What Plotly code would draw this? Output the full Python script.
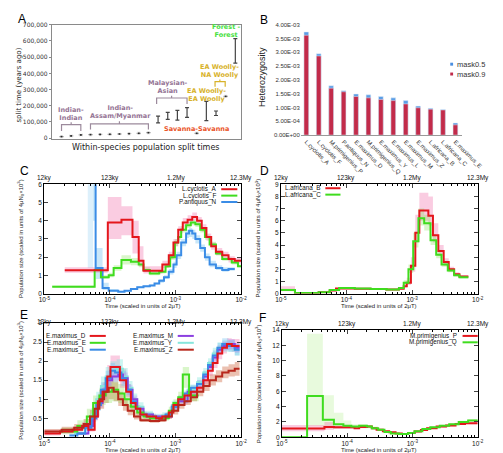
import plotly.graph_objects as go

W, H = 503, 453

def X(p):
    return p / W

def Y(p):
    return 1 - p / H

# ---------------- Panel A data ----------------
split_pos = list(range(1, 20))
split_low = [10000, 14000, 20000, 22000, 23000, 24000, 26000, 28000, 30000, 34000,
             95000, 116000, 112000, 128000, 30000, 108000, 140000, 258000, 463000]
split_high = [10000, 14000, 20000, 22000, 23000, 24000, 26000, 28000, 30000, 34000,
              136000, 160000, 172000, 189000, 30000, 227000, 168000, 258000, 615000]

# ---------------- Panel B data ----------------
samples = ["L.cyclotis_A", "L.cyclotis_F", "M.primigenius_P", "P.antiquus_N", "E.maximus_D",
           "M.primigenius_Q", "E.maximus_Y", "E.maximus_L", "E.maximus_M", "E.maximus_Z",
           "L.africana_B", "L.africana_C", "E.maximus_E"]
het_mask05 = [3.74e-3, 2.95e-3, 1.79e-3, 1.61e-3, 1.49e-3, 1.46e-3, 1.40e-3, 1.35e-3,
              1.25e-3, 1.05e-3, 0.97e-3, 0.93e-3, 0.44e-3]
het_mask09 = [3.62e-3, 2.87e-3, 1.70e-3, 1.57e-3, 1.40e-3, 1.35e-3, 1.29e-3, 1.25e-3,
              1.13e-3, 0.99e-3, 0.94e-3, 0.91e-3, 0.37e-3]
het_tickvals = [0, 0.0005, 0.001, 0.0015, 0.002, 0.0025, 0.003, 0.0035, 0.004]
het_ticktext = ["0.00E+00", "5.00E-04", "1.00E-03", "1.50E-03", "2.00E-03",
                "2.50E-03", "3.00E-03", "3.50E-03", "4.00E-03"]

# ---------------- PSMC tick labels ----------------
time_ticks = [1e-5, 1e-4, 1e-3, 1e-2]
time_ticktext = ["10<sup>-5</sup>", "10<sup>-4</sup>", "10<sup>-3</sup>", "10<sup>-2</sup>"]
years_text = ["12ky", "123ky", "1.2My", "12.3My"]

# ---------------- Panel C data ----------------
c_A_t = [2.05e-5, 9.3e-5, 1.50e-4, 2.21e-4, 2.75e-4, 3.25e-4, 6.3e-4, 7.9e-4, 9.3e-4, 1.10e-3, 1.29e-3,
         1.53e-3, 1.80e-3, 2.13e-3, 2.51e-3, 2.96e-3, 3.50e-3, 4.13e-3, 5.15e-3, 6.43e-3, 8.0e-3, 1.0e-2]
c_A_y = [1.28, 3.9, 4.05, 3.1, 1.8, 1.25, 1.6, 2.1, 2.8, 3.5, 3.9, 4.05, 4.2, 4.0, 3.6, 3.1, 2.6, 2.3,
         2.1, 1.9, 1.8, 1.8]
c_A_lo = [1.15, 3.0, 3.2, 2.2, 1.5, 1.1, 1.4, 1.9, 2.6, 3.3, 3.7, 3.85, 4.0, 3.8, 3.4, 2.9, 2.4, 2.1,
          1.9, 1.7, 1.65, 1.65]
c_A_hi = [1.45, 5.3, 4.8, 4.0, 2.6, 1.5, 1.8, 2.3, 3.0, 3.7, 4.15, 4.3, 4.45, 4.2, 3.8, 3.3, 2.8, 2.5,
          2.3, 2.05, 1.95, 1.95]

c_F_t = [1.32e-5, 5.86e-5, 7.3e-5, 9.6e-5, 1.14e-4, 1.50e-4, 2.09e-4, 2.75e-4, 3.25e-4, 4.06e-4, 5.65e-4,
         7.05e-4, 8.3e-4, 9.8e-4, 1.10e-3, 1.22e-3, 1.45e-3, 1.71e-3, 2.01e-3, 2.38e-3, 2.81e-3, 3.31e-3,
         4.13e-3, 5.15e-3, 7.2e-3, 8.95e-3, 1.0e-2]
c_F_y = [0.38, 1.3, 0.9, 1.0, 1.4, 1.85, 1.75, 1.6, 1.3, 1.1, 1.2, 1.5, 2.0, 2.8, 3.1, 3.5, 3.75, 3.9,
         3.8, 3.5, 3.1, 2.7, 2.2, 1.9, 1.7, 1.5, 1.5]
c_F_lo = [0.33, 1.2, 0.8, 0.9, 1.25, 1.6, 1.55, 1.45, 1.2, 1.0, 1.1, 1.4, 1.85, 2.6, 2.95, 3.35, 3.6,
          3.75, 3.65, 3.35, 2.95, 2.55, 2.1, 1.8, 1.6, 1.45, 1.45]
c_F_hi = [0.45, 1.4, 1.0, 1.15, 1.55, 2.1, 1.95, 1.75, 1.45, 1.2, 1.3, 1.65, 2.15, 3.0, 3.3, 3.7, 3.9,
          4.05, 3.95, 3.65, 3.25, 2.85, 2.35, 2.0, 1.8, 1.6, 1.6]

c_N_t = [5.55e-5, 6.06e-5, 7.73e-5, 9.6e-5, 1.34e-4, 1.67e-4, 2.09e-4, 2.61e-4, 3.25e-4, 4.06e-4,
         4.79e-4, 5.65e-4, 6.67e-4, 7.9e-4, 9.3e-4, 1.04e-3, 1.22e-3, 1.45e-3, 1.61e-3, 1.80e-3,
         2.01e-3, 2.38e-3, 2.81e-3, 3.31e-3, 4.13e-3, 5.15e-3, 6.43e-3, 8.0e-3]
c_N_y = [9.0, 1.4, 0.3, 0.15, 0.1, 0.15, 0.25, 0.35, 0.4, 0.45, 0.55, 0.7, 0.9, 1.2, 1.6, 2.1, 2.8,
         3.3, 3.45, 3.3, 3.0, 2.5, 2.0, 1.6, 1.4, 1.3, 1.35, 1.35]
c_N_lo = [4.0, 0.8, 0.2, 0.1, 0.07, 0.1, 0.2, 0.3, 0.35, 0.4, 0.5, 0.6, 0.8, 1.05, 1.4, 1.9, 2.6,
          3.05, 3.1, 3.0, 2.75, 2.3, 1.8, 1.45, 1.3, 1.2, 1.25, 1.25]
c_N_hi = [9.0, 2.5, 0.6, 0.25, 0.15, 0.2, 0.3, 0.4, 0.45, 0.5, 0.6, 0.8, 1.0, 1.35, 1.75, 2.3, 3.0,
          3.5, 3.6, 3.5, 3.2, 2.7, 2.2, 1.8, 1.55, 1.45, 1.45, 1.45]
c_N_pre_t = [4.6e-5, 5.55e-5]
c_N_pre_lo = [1.4, 1.4]
c_N_pre_hi = [6.5, 6.5]

# ---------------- Panel D data ----------------
d_B_t = [1.0e-5, 1.64e-5, 3.77e-5, 5.55e-5, 6.92e-5, 1.34e-4, 2.33e-4, 4.06e-4, 6.3e-4, 7.45e-4, 8.3e-4,
         9.6e-4, 1.12e-3, 1.29e-3, 1.77e-3, 2.08e-3, 2.51e-3, 3.03e-3, 3.62e-3, 4.37e-3, 5.27e-3, 7.2e-3]
d_B_y = [0.3, 0.05, 0.1, 0.25, 0.42, 0.4, 0.37, 0.33, 0.4, 0.6, 0.9, 2.3, 5.0, 6.85, 6.4, 4.8, 3.5,
         2.6, 2.0, 1.6, 1.4, 1.4]
d_B_lo = [0.2, 0.03, 0.07, 0.2, 0.35, 0.35, 0.32, 0.28, 0.33, 0.5, 0.7, 1.8, 4.2, 6.0, 5.6, 4.2, 3.1,
          2.3, 1.8, 1.45, 1.3, 1.3]
d_B_hi = [0.6, 0.1, 0.15, 0.35, 0.5, 0.47, 0.42, 0.38, 0.5, 0.8, 1.3, 3.0, 6.5, 8.3, 8.0, 5.8, 4.0,
          2.9, 2.2, 1.75, 1.5, 1.5]

d_C_t = [1.0e-5, 1.64e-5, 3.77e-5, 5.55e-5, 7.73e-5, 1.34e-4, 2.33e-4, 4.06e-4, 6.3e-4, 7.45e-4, 8.8e-4,
         1.04e-3, 1.25e-3, 1.53e-3, 1.91e-3, 2.33e-3, 2.81e-3, 3.50e-3, 4.37e-3, 5.27e-3, 7.2e-3]
d_C_y = [0.3, 0.05, 0.1, 0.3, 0.45, 0.42, 0.38, 0.33, 0.45, 0.9, 2.0, 4.3, 6.2, 5.8, 4.4, 3.2, 2.4,
         1.9, 1.5, 1.35, 1.35]
d_C_lo = [0.22, 0.03, 0.07, 0.25, 0.4, 0.38, 0.34, 0.29, 0.38, 0.75, 1.7, 3.8, 5.6, 5.2, 4.0, 2.9, 2.2,
          1.75, 1.4, 1.25, 1.25]
d_C_hi = [0.4, 0.1, 0.14, 0.35, 0.5, 0.46, 0.42, 0.38, 0.55, 1.1, 2.4, 5.0, 7.0, 6.5, 4.9, 3.6, 2.7,
          2.1, 1.65, 1.45, 1.45]

# ---------------- Panel E data ----------------
e_D_t = [1.0e-5, 1.74e-5, 2.70e-5, 3.77e-5, 4.70e-5, 5.86e-5, 6.55e-5, 7.73e-5, 9.12e-5, 1.02e-4,
         1.42e-4, 1.77e-4, 2.09e-4, 2.47e-4, 2.91e-4, 3.63e-4, 5.06e-4, 6.3e-4, 7.9e-4, 9.3e-4, 1.10e-3,
         1.37e-3, 1.71e-3, 2.13e-3, 2.65e-3, 3.13e-3, 3.70e-3, 4.37e-3, 5.15e-3, 6.08e-3, 7.2e-3, 9.46e-3]
e_D_y = [0.1, 0.15, 0.2, 0.3, 0.2, 0.55, 0.95, 1.2, 1.6, 1.85, 1.5, 1.2, 0.9, 0.75, 0.6, 0.55, 0.5,
         0.55, 0.65, 0.85, 1.0, 1.1, 1.2, 1.3, 1.5, 1.75, 1.95, 2.2, 2.35, 2.45, 2.4, 2.4]
e_D_lo = [0.05, 0.1, 0.15, 0.22, 0.15, 0.45, 0.8, 1.0, 1.35, 1.6, 1.3, 1.05, 0.8, 0.68, 0.55, 0.5,
          0.46, 0.5, 0.6, 0.78, 0.92, 1.02, 1.12, 1.22, 1.4, 1.62, 1.82, 2.05, 2.2, 2.3, 2.25, 2.25]
e_D_hi = [0.2, 0.22, 0.28, 0.4, 0.3, 0.7, 1.15, 1.45, 1.9, 2.15, 1.8, 1.4, 1.05, 0.85, 0.68, 0.62,
          0.56, 0.62, 0.72, 0.95, 1.1, 1.2, 1.3, 1.4, 1.6, 1.9, 2.1, 2.35, 2.5, 2.6, 2.58, 2.58]

e_E_t = [1.84e-5, 3.19e-5, 4.45e-5, 5.55e-5, 6.92e-5, 8.63e-5, 1.08e-4, 1.34e-4, 1.67e-4, 2.09e-4,
         2.61e-4, 3.25e-4, 4.06e-4, 5.65e-4, 7.9e-4, 9.3e-4, 1.10e-3, 1.29e-3, 1.61e-3, 2.25e-3]
e_E_y = [0.15, 0.3, 0.55, 0.9, 1.1, 1.2, 1.25, 1.15, 1.0, 0.8, 0.65, 0.55, 0.5, 0.5, 0.7, 0.9, 1.05,
         1.65, 1.1, 1.1]
e_E_lo = [0.08, 0.2, 0.4, 0.7, 0.85, 0.9, 0.95, 0.9, 0.8, 0.65, 0.55, 0.48, 0.44, 0.44, 0.62, 0.8,
          0.95, 1.3, 0.95, 0.95]
e_E_hi = [0.25, 0.45, 0.75, 1.1, 1.3, 1.45, 1.5, 1.4, 1.2, 0.95, 0.78, 0.65, 0.57, 0.57, 0.8, 1.0,
          1.2, 1.85, 1.3, 1.3]

e_L_t = [2.42e-5, 3.19e-5, 4.21e-5, 5.25e-5, 6.19e-5, 7.3e-5, 8.63e-5, 1.02e-4, 1.20e-4, 1.50e-4,
         1.77e-4, 2.09e-4, 2.47e-4, 2.91e-4, 3.63e-4, 5.06e-4, 7.05e-4, 8.8e-4, 1.10e-3, 1.37e-3,
         1.71e-3, 2.13e-3, 2.65e-3, 3.13e-3, 3.70e-3, 4.37e-3, 5.15e-3, 6.43e-3, 8.0e-3, 9.46e-3]
e_L_y = [0.05, 0.1, 0.25, 0.5, 0.85, 1.25, 1.55, 1.75, 1.7, 1.55, 1.25, 0.95, 0.75, 0.6, 0.55, 0.5,
         0.6, 0.8, 1.0, 1.15, 1.3, 1.4, 1.65, 1.9, 2.15, 2.35, 2.45, 2.4, 2.3, 2.3]
e_L_lo = [0.03, 0.07, 0.18, 0.4, 0.7, 1.05, 1.35, 1.5, 1.5, 1.35, 1.1, 0.85, 0.68, 0.55, 0.5, 0.46,
          0.55, 0.72, 0.92, 1.07, 1.22, 1.32, 1.55, 1.78, 2.02, 2.2, 2.3, 2.25, 2.15, 2.15]
e_L_hi = [0.08, 0.14, 0.32, 0.62, 1.0, 1.45, 1.75, 1.95, 1.9, 1.75, 1.4, 1.05, 0.83, 0.66, 0.6, 0.55,
          0.66, 0.88, 1.08, 1.23, 1.38, 1.5, 1.75, 2.0, 2.28, 2.48, 2.6, 2.55, 2.45, 2.45]

e_M_t = [3.19e-5, 4.70e-5, 5.55e-5, 6.55e-5, 7.73e-5, 9.12e-5, 1.08e-4, 1.34e-4, 1.58e-4, 1.87e-4,
         2.21e-4, 2.61e-4, 3.25e-4, 4.53e-4, 6.3e-4, 8.8e-4, 1.10e-3, 1.53e-3, 2.13e-3, 2.65e-3,
         3.13e-3, 3.70e-3, 4.37e-3, 5.15e-3, 6.43e-3, 8.0e-3, 9.46e-3]
e_M_y = [0.1, 0.3, 0.55, 0.9, 1.25, 1.5, 1.6, 1.65, 1.55, 1.25, 1.0, 0.75, 0.6, 0.55, 0.55, 0.8, 0.95,
         1.2, 1.4, 1.6, 1.85, 2.1, 2.3, 2.4, 2.45, 2.35, 2.35]
e_M_lo = [0.06, 0.22, 0.45, 0.78, 1.1, 1.35, 1.45, 1.5, 1.4, 1.12, 0.9, 0.68, 0.55, 0.5, 0.5, 0.72,
          0.87, 1.1, 1.3, 1.5, 1.75, 1.98, 2.18, 2.28, 2.32, 2.22, 2.22]
e_M_hi = [0.14, 0.38, 0.65, 1.02, 1.4, 1.65, 1.75, 1.8, 1.7, 1.38, 1.1, 0.82, 0.66, 0.6, 0.6, 0.88,
          1.03, 1.3, 1.5, 1.7, 1.95, 2.22, 2.42, 2.52, 2.58, 2.48, 2.48]

e_Y_t = [2.86e-5, 4.21e-5, 5.25e-5, 6.19e-5, 7.3e-5, 8.63e-5, 1.02e-4, 1.27e-4, 1.58e-4, 1.87e-4,
         2.21e-4, 2.61e-4, 3.25e-4, 4.53e-4, 6.3e-4, 8.8e-4, 1.10e-3, 1.53e-3, 2.13e-3, 2.65e-3,
         3.13e-3, 3.70e-3, 4.37e-3, 5.15e-3, 6.43e-3, 8.0e-3, 9.46e-3]
e_Y_y = [0.1, 0.3, 0.6, 1.0, 1.35, 1.6, 1.75, 1.8, 1.6, 1.3, 1.0, 0.8, 0.62, 0.55, 0.58, 0.85, 1.0,
         1.25, 1.45, 1.7, 1.95, 2.2, 2.35, 2.4, 2.4, 2.3, 2.3]
e_Y_lo = [0.06, 0.2, 0.45, 0.8, 1.15, 1.4, 1.55, 1.6, 1.42, 1.15, 0.88, 0.7, 0.55, 0.5, 0.52, 0.76,
          0.9, 1.15, 1.35, 1.58, 1.82, 2.05, 2.2, 2.25, 2.25, 2.15, 2.15]
e_Y_hi = [0.16, 0.42, 0.78, 1.2, 1.6, 1.85, 2.0, 2.05, 1.82, 1.48, 1.15, 0.92, 0.7, 0.62, 0.66, 0.96,
          1.1, 1.38, 1.58, 1.82, 2.08, 2.35, 2.5, 2.55, 2.55, 2.45, 2.45]

e_Z_t = [1.0e-5, 1.84e-5, 2.86e-5, 3.98e-5, 4.97e-5, 5.86e-5, 6.92e-5, 8.17e-5, 9.6e-5, 1.14e-4,
         1.34e-4, 1.58e-4, 1.87e-4, 2.33e-4, 2.91e-4, 4.06e-4, 5.65e-4, 7.05e-4, 8.8e-4, 1.10e-3,
         1.37e-3, 1.71e-3, 2.13e-3, 2.65e-3, 3.31e-3, 4.13e-3, 5.15e-3, 6.43e-3, 8.0e-3, 9.46e-3]
e_Z_y = [0.15, 0.2, 0.25, 0.35, 0.55, 0.75, 1.0, 1.2, 1.3, 1.2, 1.0, 0.85, 0.7, 0.55, 0.45, 0.43, 0.45,
         0.55, 0.7, 0.85, 0.95, 1.05, 1.2, 1.35, 1.5, 1.6, 1.7, 1.75, 1.8, 1.8]
e_Z_lo = [0.1, 0.13, 0.18, 0.25, 0.4, 0.55, 0.75, 0.9, 1.0, 0.95, 0.82, 0.7, 0.58, 0.47, 0.4, 0.38,
          0.4, 0.48, 0.6, 0.75, 0.85, 0.95, 1.08, 1.22, 1.36, 1.45, 1.55, 1.6, 1.62, 1.62]
e_Z_hi = [0.22, 0.28, 0.35, 0.48, 0.72, 0.95, 1.25, 1.45, 1.55, 1.45, 1.2, 1.02, 0.84, 0.66, 0.52, 0.5,
          0.52, 0.64, 0.82, 0.97, 1.07, 1.17, 1.34, 1.5, 1.66, 1.76, 1.86, 1.92, 1.98, 1.98]

# ---------------- Panel F data ----------------
f_P_t = [1.0e-5, 4.50e-5, 6.28e-5, 1.30e-4, 1.53e-4, 2.02e-4, 2.39e-4, 2.83e-4, 3.53e-4, 4.41e-4,
         5.52e-4, 6.89e-4, 8.6e-4, 1.08e-3, 1.35e-3, 1.68e-3, 2.35e-3, 3.28e-3, 4.58e-3, 6.39e-3, 1.0e-2]
f_P_y = [1.15, 1.35, 1.3, 1.2, 1.35, 1.4, 1.2, 1.0, 0.8, 0.65, 0.5, 0.45, 0.55, 0.75, 0.95, 1.2, 1.4,
         1.55, 1.75, 1.85, 1.85]
f_P_lo = [0.8, 1.0, 1.1, 1.05, 1.2, 1.25, 1.05, 0.88, 0.7, 0.57, 0.44, 0.4, 0.48, 0.66, 0.85, 1.08,
          1.28, 1.42, 1.6, 1.7, 1.7]
f_P_hi = [1.6, 2.0, 1.5, 1.35, 1.5, 1.55, 1.35, 1.12, 0.9, 0.73, 0.56, 0.5, 0.62, 0.84, 1.05, 1.32,
          1.52, 1.68, 1.9, 2.0, 2.0]

f_Q_t = [1.0e-5, 2.44e-5, 4.25e-5, 6.28e-5, 8.77e-5, 1.16e-4, 1.53e-4, 2.02e-4, 2.39e-4, 2.99e-4,
         3.73e-4, 4.67e-4, 6.17e-4, 8.6e-4, 1.08e-3, 1.42e-3, 1.88e-3, 2.62e-3, 3.66e-3, 5.12e-3,
         7.14e-3, 1.0e-2]
f_Q_y = [0.0, 5.4, 2.3, 1.7, 1.5, 1.4, 1.5, 1.4, 1.2, 1.0, 0.7, 0.5, 0.45, 0.55, 0.8, 1.1, 1.3, 1.5,
         1.7, 2.0, 2.2, 2.3]
f_Q_lo = [0.0, 1.5, 1.2, 1.2, 1.2, 1.15, 1.25, 1.2, 1.0, 0.85, 0.6, 0.44, 0.4, 0.48, 0.7, 0.98, 1.18,
          1.38, 1.58, 1.85, 2.05, 2.15]
f_Q_hi = [0.0, 13.5, 5.5, 3.2, 2.2, 1.7, 1.75, 1.6, 1.4, 1.15, 0.8, 0.57, 0.52, 0.64, 0.92, 1.25,
          1.45, 1.65, 1.85, 2.15, 2.4, 2.5]

# ---------------- colours ----------------
RED = "#e4161c"
GREEN = "#3fdc1e"
BLUE = "#3a8ce6"
PURPLE = "#8b3fe0"
CYAN = "#86e6dc"
DRED = "#b8281c"
PINK_F = "rgba(240,110,170,0.35)"
LGREEN_F = "rgba(130,225,80,0.30)"
LBLUE_F = "rgba(120,195,240,0.40)"
LBLUE_PRE = "rgba(120,195,240,0.25)"
LPURP_F = "rgba(175,130,240,0.30)"
LCYAN_F = "rgba(130,230,220,0.40)"
BROWN_F = "rgba(205,100,60,0.40)"
LGREEN_BIG = "rgba(150,230,100,0.22)"

fig = go.Figure()


def band(ax, t, lo, hi, fill):
    xa, ya = "x" + ax, "y" + ax
    fig.add_trace(go.Scatter(x=t, y=lo, mode="lines", line=dict(width=0, shape="hv"),
                             xaxis=xa, yaxis=ya, showlegend=False, hoverinfo="skip"))
    fig.add_trace(go.Scatter(x=t, y=hi, mode="lines", line=dict(width=0, shape="hv"),
                             fill="tonexty", fillcolor=fill,
                             xaxis=xa, yaxis=ya, showlegend=False, hoverinfo="skip"))


def step(ax, t, y, color, name):
    fig.add_trace(go.Scatter(x=t, y=y, mode="lines", name=name,
                             line=dict(color=color, width=2, shape="hv"),
                             xaxis="x" + ax, yaxis="y" + ax, showlegend=False))


# ---------- Panel A ----------
split_mid = [(l + h) / 2 for l, h in zip(split_low, split_high)]
fig.add_trace(go.Scatter(
    x=split_pos, y=split_mid, mode="markers",
    marker=dict(symbol="square", size=[3 if l == h else 0 for l, h in zip(split_low, split_high)],
                color="#222"),
    error_y=dict(type="data", symmetric=False,
                 array=[h - m for h, m in zip(split_high, split_mid)],
                 arrayminus=[m - l for l, m in zip(split_low, split_mid)],
                 color="#444", thickness=1.2, width=2),
    xaxis="x", yaxis="y", showlegend=False))

# ---------- Panel B ----------
fig.add_trace(go.Bar(x=samples, y=het_mask05, marker_color="#5b9ee6", width=0.38,
                     name="mask0.5", xaxis="x2", yaxis="y2", showlegend=False))
fig.add_trace(go.Bar(x=samples, y=het_mask09, marker_color="#c22b4a", width=0.38,
                     name="mask0.9", xaxis="x2", yaxis="y2", showlegend=False))

# ---------- Panel C ----------
band("3", c_N_pre_t, c_N_pre_lo, c_N_pre_hi, LBLUE_PRE)
band("3", c_N_t, c_N_lo, c_N_hi, LBLUE_F)
band("3", c_F_t, c_F_lo, c_F_hi, LGREEN_F)
band("3", c_A_t, c_A_lo, c_A_hi, PINK_F)
step("3", c_N_t, c_N_y, BLUE, "P.antiquus_N")
step("3", c_F_t, c_F_y, GREEN, "L.cyclotis_F")
step("3", c_A_t, c_A_y, RED, "L.cyclotis_A")

# ---------- Panel D ----------
band("4", d_B_t, d_B_lo, d_B_hi, PINK_F)
band("4", d_C_t, d_C_lo, d_C_hi, LGREEN_F)
step("4", d_B_t, d_B_y, RED, "L.africana_B")
step("4", d_C_t, d_C_y, GREEN, "L.africana_C")

# ---------- Panel E ----------
band("5", e_Z_t, e_Z_lo, e_Z_hi, BROWN_F)
band("5", e_E_t, e_E_lo, e_E_hi, LGREEN_F)
band("5", e_D_t, e_D_lo, e_D_hi, PINK_F)
band("5", e_Y_t, e_Y_lo, e_Y_hi, LCYAN_F)
band("5", e_L_t, e_L_lo, e_L_hi, LBLUE_F)
band("5", e_M_t, e_M_lo, e_M_hi, LPURP_F)
step("5", e_Y_t, e_Y_y, CYAN, "E.maximus_Y")
step("5", e_M_t, e_M_y, PURPLE, "E.maximus_M")
step("5", e_L_t, e_L_y, BLUE, "E.maximus_L")
step("5", e_E_t, e_E_y, GREEN, "E.maximus_E")
step("5", e_D_t, e_D_y, RED, "E.maximus_D")
step("5", e_Z_t, e_Z_y, DRED, "E.maximus_Z")

# ---------- Panel F ----------
band("6", f_Q_t, f_Q_lo, f_Q_hi, LGREEN_BIG)
band("6", f_P_t, f_P_lo, f_P_hi, PINK_F)
step("6", f_P_t, f_P_y, RED, "M.primigenius_P")
step("6", f_Q_t, f_Q_y, GREEN, "M.primigenius_Q")

# ---------------- layout ----------------
TICKF = dict(family="Liberation Sans", size=6.5, color="#111")
minor_vals = [m * 10 ** e for e in (-5, -4, -3) for m in range(2, 10)]


def psmc_axes(l, r, t, b, ymax, dtick, anchor):
    xa = dict(domain=[X(l), X(r)], type="log", range=[-5, -2], tickvals=time_ticks,
              ticktext=time_ticktext, ticks="inside", ticklen=4, showline=True, linecolor="#000",
              linewidth=1, mirror="ticks", showgrid=False, zeroline=False, tickfont=TICKF,
              anchor="y" + anchor,
              minor=dict(tickvals=minor_vals, ticks="inside", ticklen=2, tickcolor="#000",
                         showgrid=False))
    ya = dict(domain=[Y(b), Y(t)], range=[0, ymax], dtick=dtick, ticks="inside", ticklen=4,
              showline=True, linecolor="#000", linewidth=1, mirror="ticks", showgrid=False,
              zeroline=False, tickfont=TICKF, anchor="x" + anchor)
    return xa, ya


x3, y3 = psmc_axes(32, 240, 175, 286, 6, 1, "3")
x4, y4 = psmc_axes(282, 490, 175, 286, 9, 1, "4")
x5, y5 = psmc_axes(32, 240, 316, 432, 3, 0.5, "5")
x6, y6 = psmc_axes(283, 490, 323, 432, 14, 2, "6")

fig.update_layout(
    width=W, height=H, autosize=False, margin=dict(l=0, r=0, t=0, b=0),
    paper_bgcolor="white", plot_bgcolor="white", barmode="overlay",
    font=dict(family="Liberation Sans", color="#111"),
    xaxis=dict(domain=[X(40), X(240)], range=[0, 19.6], showticklabels=False, ticks="",
               showline=True, mirror=True, linecolor="#8a8a8a", showgrid=False, zeroline=False,
               anchor="y"),
    yaxis=dict(domain=[Y(129), Y(13)], range=[-5000, 700000], tickvals=[0, 100000, 200000, 300000,
               400000, 500000, 600000, 700000], tickformat=",", ticks="outside", ticklen=2,
               tickcolor="#8a8a8a", showline=True, mirror=True, linecolor="#8a8a8a",
               showgrid=False, zeroline=False, anchor="x",
               tickfont=dict(family="DejaVu Sans", size=6, color="#333")),
    xaxis2=dict(domain=[X(303), X(473)], range=[-0.45, 12.5], tickangle=45, ticks="",
                showline=True, linecolor="#999", showgrid=False, zeroline=False, anchor="y2",
                tickfont=dict(family="Liberation Sans", size=6, color="#333")),
    yaxis2=dict(domain=[Y(125), Y(13)], range=[0, 0.004], tickvals=het_tickvals,
                ticktext=het_ticktext, showline=False, showgrid=False, zeroline=False,
                anchor="x2", tickfont=dict(family="Liberation Sans", size=6, color="#333")),
    xaxis3=x3, yaxis3=y3, xaxis4=x4, yaxis4=y4, xaxis5=x5, yaxis5=y5, xaxis6=x6, yaxis6=y6,
)

ann = []
shapes = []


def text(x, y, s, size, color="#111", family="Liberation Sans", xanchor="center",
         yanchor="middle", angle=0, xref="paper", yref="paper"):
    ann.append(dict(x=x, y=y, text=s, showarrow=False, xref=xref, yref=yref,
                    xanchor=xanchor, yanchor=yanchor, textangle=angle,
                    font=dict(family=family, size=size, color=color)))


# panel letters
for letter, lx, ly in [("A", 2, 7), ("B", 258, 8), ("C", 4, 161), ("D", 258, 161),
                       ("E", 4, 308), ("F", 257, 311)]:
    text(X(lx), Y(ly), letter, 12, color="#000", xanchor="left")

# Panel A texts
MAUVE = "#957495"
GOLD = "#d8b22a"
ORANGE = "#ea5428"
LIME = "#46e040"
BF = "DejaVu Sans"
text(X(5), Y(74), "split time (years ago)", 7, color="#222", family=BF, angle=-90)
text(X(140), Y(138), "Within-species population split times", 8, color="#222", family=BF)
text(1.96, 149000, "<b>Indian-<br>Indian</b>", 6.5, MAUVE, BF, xref="x", yref="y")
text(7.06, 164000, "<b>Indian-<br>Assam/Myanmar</b>", 6.5, MAUVE, BF, xref="x", yref="y")
text(12.05, 313000, "<b>Malaysian-<br>Asian</b>", 6.5, MAUVE, BF, xref="x", yref="y")
text(15.0, 55000, "<b>Savanna-Savanna</b>", 6.5, ORANGE, BF, xref="x", yref="y")
text(16.0, 265000, "<b>EA Woolly-<br>EA Woolly</b>", 6.5, GOLD, BF, xref="x", yref="y")
text(17.35, 414000, "<b>EA Woolly-<br>NA Woolly</b>", 6.5, GOLD, BF, xref="x", yref="y")
text(18.0, 659000, "<b>Forest -<br>Forest</b>", 6.5, LIME, BF, xref="x", yref="y")


def bracket(x1, x2, xm, yh, yend, ytop, color):
    shapes.append(dict(type="path", xref="x", yref="y",
                       path=f"M {x1},{yend} L {x1},{yh} L {x2},{yh} L {x2},{yend} "
                            f"M {xm},{yh} L {xm},{ytop}",
                       line=dict(color=color, width=1.2)))


bracket(1, 3, 2, 83500, 44000, 99000, "#9c8a9c")
bracket(4, 10, 7, 89000, 53000, 105000, "#9c8a9c")
bracket(10.85, 14, 12.4, 248000, 211000, 262000, "#9c8a9c")
bracket(16.9, 17.95, 17.4, 349000, 317000, 363000, GOLD)

# Panel B texts + legend
text(X(262), Y(66), "Heterozygosity", 9, color="#222", angle=-90)
for lbl, col, yy in [("mask0.5", "#4a8ee0", 53), ("mask0.9", "#c02a4a", 63)]:
    shapes.append(dict(type="rect", xref="paper", yref="paper", x0=X(461), x1=X(464),
                       y0=Y(yy + 1.5), y1=Y(yy - 1.5), fillcolor=col, line=dict(width=0)))
    text(X(466), Y(yy), lbl, 7.5, color="#333", xanchor="left")

# PSMC titles
YT = "Population size (scaled in units of 4μN<sub>0</sub>×10<sup>3</sup>)"
XT = "Time (scaled in units of 2μT)"
for ax, cx, cy, tx, xt_y, top_y in [("3", 7, 230, 136, 299, 169), ("4", 258, 230, 386, 299, 169),
                                     ("5", 7, 374, 136, 445, 315), ("6", 258, 378, 386, 445, 317)]:
    text(X(cx), Y(cy), YT, 6, color="#222", angle=-90)
    text(X(tx), Y(xt_y), XT, 6, color="#222")
    for tv, lab in zip([-5, -4, -3, -2], years_text):
        text(tv, Y(top_y), lab, 6.5, color="#111", xref="x" + ax)


def key(text_x, line_x0, line_x1, y, label, color, anchor="right"):
    text(X(text_x), Y(y), label, 6.3, color="#111", xanchor=anchor)
    shapes.append(dict(type="line", xref="paper", yref="paper", x0=X(line_x0), x1=X(line_x1),
                       y0=Y(y), y1=Y(y), line=dict(color=color, width=2)))


# legend C
key(216, 219, 236, 180, "L.cyclotis_A", RED)
key(216, 219, 236, 186.5, "L.cyclotis_F", GREEN)
key(216, 219, 236, 193, "P.antiquus_N", BLUE)
# legend D
key(284, 329, 345, 179, "L.africana_B", RED, "left")
key(284, 329, 345, 185.5, "L.africana_C", GREEN, "left")
# legend E
key(78, 80, 97, 329, "E.maximus_D", RED)
key(78, 80, 97, 336, "E.maximus_E", GREEN)
key(78, 80, 97, 343, "E.maximus_L", BLUE)
key(170, 173, 190, 329, "E.maximus_M", PURPLE)
key(170, 173, 190, 336, "E.maximus_Y", CYAN)
key(170, 173, 190, 343, "E.maximus_Z", DRED)
# legend F
key(470, 474, 490, 329, "M.primigenius_P", RED)
key(470, 474, 490, 335.5, "M.primigenius_Q", GREEN)

fig.update_layout(annotations=ann, shapes=shapes)
fig.write_html("out.html")
